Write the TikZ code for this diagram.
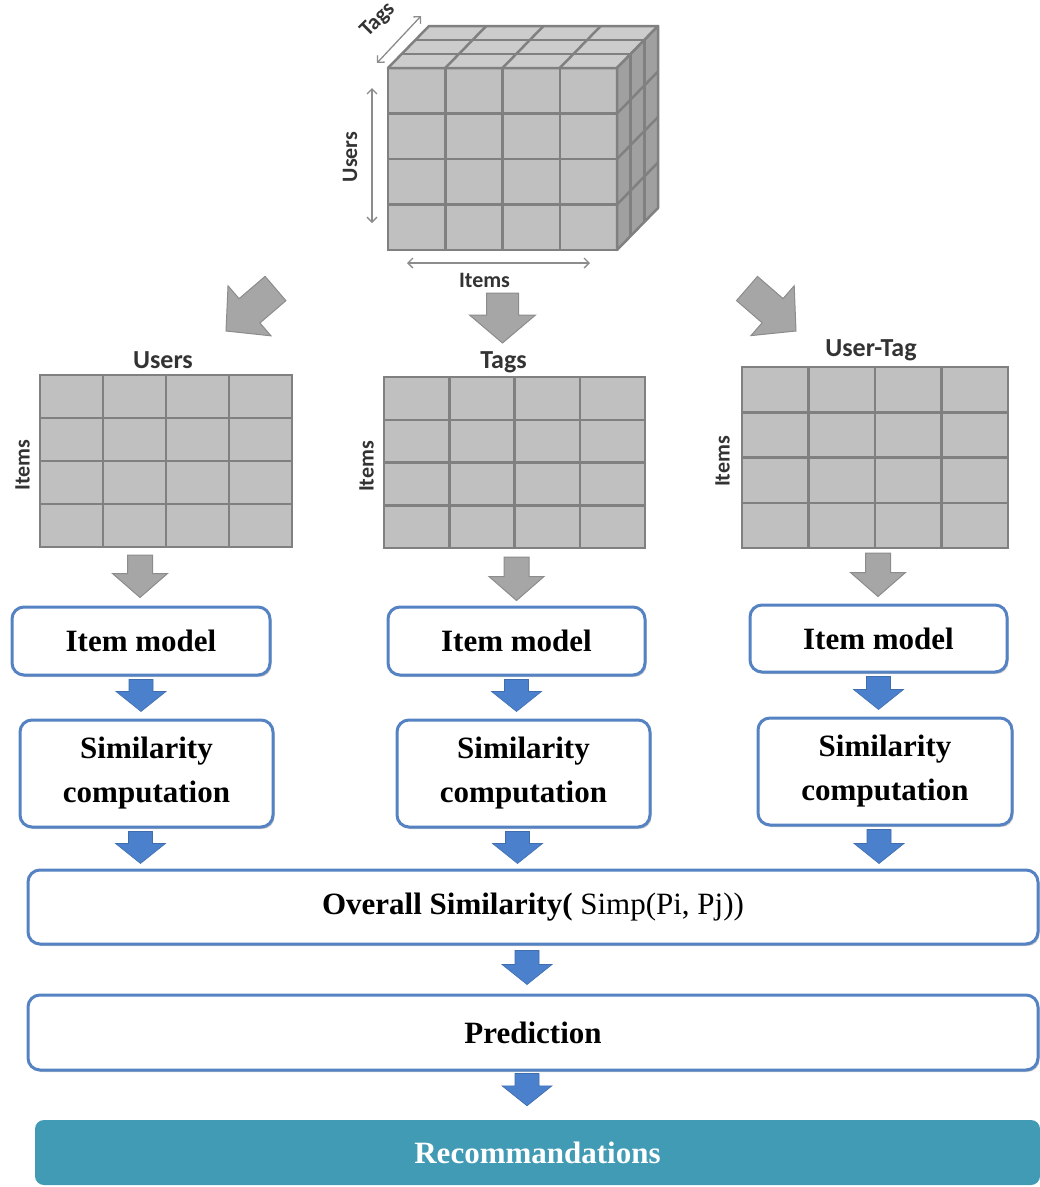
\documentclass[tikz,border=0pt]{standalone}
\usepackage{fontspec}
\setmainfont{Liberation Serif}
\newfontfamily\labelfont{Carlito}
\usetikzlibrary{calc,positioning,arrows.meta,shadows}

\definecolor{cellgray}{RGB}{192,192,192}
\definecolor{topgray}{RGB}{204,204,204}
\definecolor{sidegray}{RGB}{160,160,160}
\definecolor{gridgray}{RGB}{128,128,128}
\definecolor{arrowgray}{RGB}{166,166,166}
\definecolor{arrowedge}{RGB}{140,140,140}
\definecolor{boxblue}{RGB}{84,130,195}
\definecolor{flowblue}{RGB}{74,128,204}
\definecolor{recteal}{RGB}{66,155,180}

% block arrow: [style]{from}{to}{half shaft}{half head}{head length}
\newcommand{\blockarrow}[6][]{%
  \coordinate (ba-s) at (#2);
  \coordinate (ba-e) at (#3);
  \coordinate (ba-n) at ($(ba-e)!#6!(ba-s)$);
  \path[#1] ($(ba-s)!#4!90:(ba-e)$) -- ($(ba-n)!#4!90:(ba-e)$)
    -- ($(ba-n)!#5!90:(ba-e)$) -- (ba-e) -- ($(ba-n)!#5!-90:(ba-e)$)
    -- ($(ba-n)!#4!-90:(ba-e)$) -- ($(ba-s)!#4!-90:(ba-e)$) -- cycle;
}

\tikzset{
  matbox/.style 2 args={draw=gridgray, fill=cellgray, line width=2.5pt,
    minimum width=#1, minimum height=#2, inner sep=0pt, outer sep=0pt,
    path picture={
      \foreach \k in {1,2,3}{
        \draw[gridline] ($(path picture bounding box.north west)!{\k/4}!(path picture bounding box.north east)$)
          -- ($(path picture bounding box.south west)!{\k/4}!(path picture bounding box.south east)$);
        \draw[gridline] ($(path picture bounding box.north west)!{\k/4}!(path picture bounding box.south west)$)
          -- ($(path picture bounding box.north east)!{\k/4}!(path picture bounding box.south east)$);
      }}},
  gridline/.style={draw=gridgray, line width=2.5pt},
  cubeface/.style={draw=gridgray, line width=2.5pt, line join=round},
  axislabel/.style={font=\labelfont\bfseries\fontsize{22}{26}\selectfont, text=black!80, inner sep=1pt},
  titlelabel/.style={axislabel, font=\labelfont\bfseries\fontsize{26}{30}\selectfont},
  dimarrow/.style={draw=arrowedge, line width=1.3pt, {Straight Barb[length=5pt,width=10pt]}-{Straight Barb[length=5pt,width=10pt]}},
  flowbox/.style={draw=boxblue, line width=3pt, rounded corners=12pt, fill=white,
    align=center, font=\fontsize{31}{44}\selectfont\bfseries,
    drop shadow={shadow xshift=1.5pt, shadow yshift=-2pt, opacity=0.2, fill=black}},
  garrow/.style={fill=arrowgray, draw=arrowedge, line width=1pt, line join=miter},
  barrow/.style={fill=flowblue, draw=flowblue!85!black, line width=0.6pt},
}

\begin{document}
\begin{tikzpicture}[x=1pt, y=-1pt]
  \useasboundingbox (0,0) rectangle (1040,1187);

  % tensor cube
  \node[matbox={229pt}{182pt}] (cube) at (502.5,159) {};
  \draw[cubeface, fill=topgray] (cube.north west) -- (cube.north east)
    -- ($(cube.north east)+(41,-42)$) -- ($(cube.north west)+(41,-42)$) -- cycle;
  \draw[cubeface, fill=sidegray] (cube.north east) -- ($(cube.north east)+(41,-42)$)
    -- ($(cube.south east)+(41,-42)$) -- (cube.south east) -- cycle;
  \foreach \k in {1,2,3}{
    \draw[gridline] ($(cube.north west)!{\k/4}!(cube.north east)$) -- ++(41,-42);
    \draw[gridline] ($(cube.north east)!{\k/4}!(cube.south east)$) -- ++(41,-42);
  }
  \foreach \k in {1,2}{
    \draw[gridline] ($(cube.north west)+({41*\k/3},{-42*\k/3})$) -- ($(cube.north east)+({41*\k/3},{-42*\k/3})$);
    \draw[gridline] ($(cube.north east)+({41*\k/3},{-42*\k/3})$) -- ($(cube.south east)+({41*\k/3},{-42*\k/3})$);
  }

  \coordinate (usr-a) at ($(cube.north west)+(-16,20)$);
  \coordinate (usr-b) at ($(cube.south west)+(-16,-27)$);
  \coordinate (itm-a) at ($(cube.south west)+(19,13)$);
  \coordinate (itm-b) at ($(cube.south east)+(-27,13)$);
  \coordinate (tag-a) at ($(cube.north west)+(-11,-5)$);
  \coordinate (tag-b) at ($(cube.north west)+(33,-52)$);
  \draw[dimarrow] (usr-a) -- (usr-b);
  \draw[dimarrow] (itm-a) -- (itm-b);
  \draw[dimarrow] (tag-a) -- (tag-b);
  \node[axislabel, rotate=90] (cube-users) at ($(cube.west)+(-38,-2)$) {Users};
  \node[axislabel] (cube-items) at ($(cube.south)+(-18,30)$) {Items};
  \node[axislabel, rotate=45] (cube-tags) at ($(cube.north west)+(-10,-48)$) {Tags};

  % matrices
  \node[matbox={252pt}{172pt}] (matU) at (166,461) {};
  \node[matbox={261pt}{171pt}] (matT) at (514.5,462.5) {};
  \node[matbox={266pt}{181pt}] (matUT) at (875,457.5) {};
  \node[titlelabel, above=5pt of matU, xshift=-3pt] (matU-top) {Users};
  \node[titlelabel, above=3pt of matT, xshift=-11pt] (matT-top) {Tags};
  \node[titlelabel, above=5pt of matUT, xshift=-4pt] (matUT-top) {User-Tag};
  \node[axislabel, rotate=90, anchor=south] (matU-side) at ($(matU.west)+(-9,4)$) {Items};
  \node[axislabel, rotate=90, anchor=south] (matT-side) at ($(matT.west)+(-9,4)$) {Items};
  \node[axislabel, rotate=90, anchor=south] (matUT-side) at ($(matUT.west)+(-11,4)$) {Items};

  \coordinate (toUsers-s) at (275.5,288.5);
  \coordinate (toUsers-e) at (226,331);
  \coordinate (toUserTag-s) at (747,288.5);
  \coordinate (toUserTag-e) at (796,331);
  \blockarrow[garrow]{toUsers-s}{toUsers-e}{16pt}{33pt}{31pt}
  \blockarrow[garrow]{$(cube.south)+(0,43)$}{$(cube.south)+(0,93)$}{16pt}{33pt}{28pt}
  \blockarrow[garrow]{toUserTag-s}{toUserTag-e}{16pt}{33pt}{31pt}

  % item models
  \node[flowbox, minimum width=258pt, minimum height=68pt] (im1) at (141,641) {Item model};
  \node[flowbox, minimum width=257pt, minimum height=68pt] (im2) at (516.5,641) {Item model};
  \node[flowbox, minimum width=257pt, minimum height=67pt] (im3) at (878.5,638.5) {Item model};

  \blockarrow[garrow]{$(matU.south)+(-26,8)$}{$(matU.south |- im1.north)+(-26,-8)$}{12.5pt}{27.5pt}{24pt}
  \blockarrow[garrow]{$(matT.south)+(2,9)$}{$(matT.south |- im2.north)+(2,-5)$}{12.5pt}{27.5pt}{24pt}
  \blockarrow[garrow]{$(matUT.south)+(3,5)$}{$(matUT.south |- im3.north)+(3,-7)$}{12.5pt}{27.5pt}{24pt}

  % similarity
  \node[flowbox, minimum width=253pt, minimum height=107pt] (sim1) at (146.5,773.5) {Similarity\\computation};
  \node[flowbox, minimum width=253pt, minimum height=107pt] (sim2) at (523.5,773.5) {Similarity\\computation};
  \node[flowbox, minimum width=254pt, minimum height=107pt] (sim3) at (885,771.5) {Similarity\\computation};

  \foreach \a/\b in {im1/sim1, im2/sim2, im3/sim3}{
    \blockarrow[barrow]{$(\a.south)+(0,3)$}{$(\a.south |- \b.north)+(0,-7)$}{12pt}{25pt}{20pt}
  }

  % overall, prediction, output
  \node[flowbox, minimum width=1010pt, minimum height=74pt] (overall) at (533,907)
    {Overall Similarity({\mdseries\ Simp(Pi, Pj))}};
  \node[flowbox, minimum width=1010pt, minimum height=75pt] (pred) at (533,1032.5) {Prediction};
  \node[fill=recteal, rounded corners=9pt, minimum width=1005pt, minimum height=65pt,
    text=white, font=\fontsize{31}{44}\selectfont\bfseries] (rec) at (537.5,1152.5) {Recommandations};

  \foreach \a in {sim1, sim2, sim3}{
    \blockarrow[barrow]{$(\a.south)+(-6,3)$}{$(\a.south |- overall.north)+(-6,-5)$}{12pt}{25pt}{20pt}
  }
  \blockarrow[barrow]{$(overall.south)+(-6,5)$}{$(overall.south |- pred.north)+(-6,-9)$}{12pt}{25pt}{20pt}
  \blockarrow[barrow]{$(pred.south)+(-6,2)$}{$(pred.south |- rec.north)+(-6,-14)$}{12pt}{25pt}{20pt}
\end{tikzpicture}
\end{document}
